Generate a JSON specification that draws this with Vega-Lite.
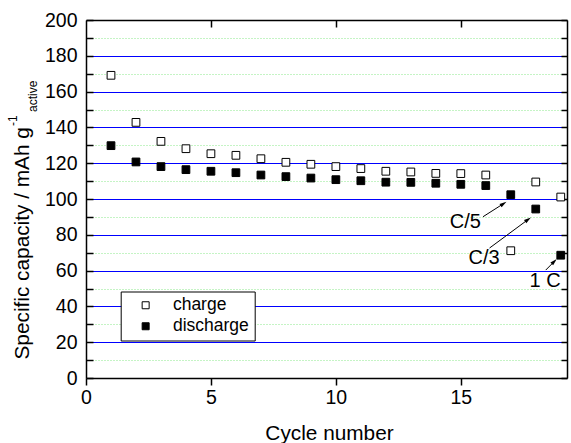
{
  "$schema": "https://vega.github.io/schema/vega-lite/v6.json",
  "width": 481,
  "height": 358,
  "autosize": {"type": "none"},
  "padding": {"left": 86, "top": 20, "right": 4, "bottom": 65},
  "config": {
    "font": "Liberation Sans",
    "view": {"stroke": null},
    "axis": {"labelColor": "black", "titleColor": "black", "labelFont": "Liberation Sans", "titleFont": "Liberation Sans", "titleFontWeight": "normal", "labelFlush": false}
  },
  "datasets": {
    "capacity": [
      {"cycle": 1, "series": "charge", "capacity": 169.1},
      {"cycle": 2, "series": "charge", "capacity": 142.8},
      {"cycle": 3, "series": "charge", "capacity": 132.2},
      {"cycle": 4, "series": "charge", "capacity": 128.1},
      {"cycle": 5, "series": "charge", "capacity": 125.3},
      {"cycle": 6, "series": "charge", "capacity": 124.4},
      {"cycle": 7, "series": "charge", "capacity": 122.5},
      {"cycle": 8, "series": "charge", "capacity": 120.5},
      {"cycle": 9, "series": "charge", "capacity": 119.4},
      {"cycle": 10, "series": "charge", "capacity": 118.1},
      {"cycle": 11, "series": "charge", "capacity": 117.0},
      {"cycle": 12, "series": "charge", "capacity": 115.5},
      {"cycle": 13, "series": "charge", "capacity": 115.1},
      {"cycle": 14, "series": "charge", "capacity": 114.3},
      {"cycle": 15, "series": "charge", "capacity": 114.2},
      {"cycle": 16, "series": "charge", "capacity": 113.4},
      {"cycle": 17, "series": "charge", "capacity": 71.1},
      {"cycle": 18, "series": "charge", "capacity": 109.5},
      {"cycle": 19, "series": "charge", "capacity": 101.1},
      {"cycle": 1, "series": "discharge", "capacity": 129.8},
      {"cycle": 2, "series": "discharge", "capacity": 120.7},
      {"cycle": 3, "series": "discharge", "capacity": 118.1},
      {"cycle": 4, "series": "discharge", "capacity": 116.4},
      {"cycle": 5, "series": "discharge", "capacity": 115.5},
      {"cycle": 6, "series": "discharge", "capacity": 114.7},
      {"cycle": 7, "series": "discharge", "capacity": 113.4},
      {"cycle": 8, "series": "discharge", "capacity": 112.5},
      {"cycle": 9, "series": "discharge", "capacity": 111.7},
      {"cycle": 10, "series": "discharge", "capacity": 110.8},
      {"cycle": 11, "series": "discharge", "capacity": 110.2},
      {"cycle": 12, "series": "discharge", "capacity": 109.4},
      {"cycle": 13, "series": "discharge", "capacity": 109.3},
      {"cycle": 14, "series": "discharge", "capacity": 108.8},
      {"cycle": 15, "series": "discharge", "capacity": 108.2},
      {"cycle": 16, "series": "discharge", "capacity": 107.5},
      {"cycle": 17, "series": "discharge", "capacity": 102.4},
      {"cycle": 18, "series": "discharge", "capacity": 94.4},
      {"cycle": 19, "series": "discharge", "capacity": 68.6}
    ],
    "rate_labels": [
      {"label": "C/5", "cycle": 15.18, "capacity": 87.2},
      {"label": "C/3", "cycle": 15.93, "capacity": 67.2},
      {"label": "1 C", "cycle": 18.37, "capacity": 54.4}
    ],
    "rate_arrows": [
      {"label": "C/5", "cycle": 15.89, "capacity": 90.1, "cycle_end": 16.71, "capacity_end": 97.4},
      {"label": "C/3", "cycle": 16.15, "capacity": 72.6, "cycle_end": 17.69, "capacity_end": 88.5},
      {"label": "1 C", "cycle": 18.4, "capacity": 60.3, "cycle_end": 18.74, "capacity_end": 65.1}
    ],
    "unit_parts": [
      {"part": "-1", "cycle": -2.76, "capacity": 140.8},
      {"part": "active", "cycle": -1.96, "capacity": 148.6}
    ]
  },
  "layer": [
    {
      "data": {"name": "capacity"},
      "mark": {"type": "point", "opacity": 0},
      "encoding": {
        "x": {
          "field": "cycle", "type": "quantitative",
          "scale": {"domain": [0, 19.25], "nice": false, "zero": false},
          "axis": {"orient": "top", "values": [5, 10, 15], "tickCount": 21, "labels": false, "title": null, "grid": false,
                   "tickSize": -7, "tickColor": "black", "tickWidth": 1.5, "domainColor": "black", "domainWidth": 1.5}
        },
        "y": {
          "field": "capacity", "type": "quantitative",
          "scale": {"domain": [0, 200], "nice": false, "zero": false},
          "axis": {"orient": "right", "values": [0, 10, 20, 30, 40, 50, 60, 70, 80, 90, 100, 110, 120, 130, 140, 150, 160, 170, 180, 190, 200],
                   "tickCount": 21, "labels": false, "title": null,
                   "grid": true, "gridColor": "#8be88b", "gridDash": [1, 2], "gridWidth": 1,
                   "gridOpacity": {"condition": {"test": "datum.value % 20 !== 0", "value": 1}, "value": 0},
                   "tickSize": -6, "tickColor": "black", "tickWidth": 1.5, "domainColor": "black", "domainWidth": 1.5}
        }
      }
    },
    {
      "layer": [
        {
          "data": {"name": "capacity"},
          "mark": {"type": "point", "shape": "square", "size": 60, "filled": true, "stroke": "black", "strokeWidth": 1, "opacity": 1},
          "encoding": {
            "x": {
              "field": "cycle", "type": "quantitative",
              "scale": {"domain": [0, 19.25], "nice": false, "zero": false},
              "axis": {"orient": "bottom", "values": [0, 5, 10, 15], "tickCount": 21, "title": "Cycle number", "grid": false,
                       "labelFontSize": 19.5, "labelPadding": 3, "tickSize": 7, "tickColor": "black", "tickWidth": 1.5,
                       "domainColor": "black", "domainWidth": 1.5,
                       "titleFontSize": 20.8, "titleX": 243, "titleY": 61, "titleBaseline": "alphabetic"}
            },
            "y": {
              "field": "capacity", "type": "quantitative",
              "scale": {"domain": [0, 200], "nice": false, "zero": false},
              "axis": {"orient": "left", "values": [0, 10, 20, 30, 40, 50, 60, 70, 80, 90, 100, 110, 120, 130, 140, 150, 160, 170, 180, 190, 200],
                       "tickCount": 21, "labelOverlap": false,
                       "labelExpr": "datum.value % 20 === 0 ? datum.label : ''",
                       "labelFontSize": 19.5, "labelPadding": 16,
                       "tickSize": -7, "tickColor": "black", "tickWidth": 1.5,
                       "domainColor": "black", "domainWidth": 1.5,
                       "grid": true, "gridColor": "#0000ff", "gridWidth": 1,
                       "gridOpacity": {"condition": {"test": "datum.value % 20 === 0 && datum.value > 0 && datum.value < 200", "value": 1}, "value": 0},
                       "title": "Specific capacity / mAh g",
                       "titleFontSize": 20.8, "titleX": -58, "titleY": 339, "titleAlign": "left", "titleAngle": 270, "titleBaseline": "alphabetic"}
            },
            "fill": {
              "field": "series", "type": "nominal",
              "scale": {"domain": ["charge", "discharge"], "range": ["white", "black"]},
              "legend": {
                "title": null, "orient": "none", "legendX": 34.7, "legendY": 271.5,
                "padding": 5, "strokeColor": "black", "fillColor": "white",
                "labelFont": "Liberation Sans", "labelFontSize": 17.5, "labelColor": "black",
                "symbolType": "square", "symbolSize": 49, "symbolStrokeColor": "black", "symbolStrokeWidth": 1,
                "symbolOffset": 11.2, "labelOffset": 18.5, "rowPadding": 2
              }
            }
          }
        },
        {
          "data": {"name": "rate_arrows"},
          "mark": {"type": "rule", "color": "black", "strokeWidth": 1},
          "encoding": {
            "x": {"field": "cycle", "type": "quantitative", "scale": {"domain": [0, 19.25], "nice": false, "zero": false}},
            "y": {"field": "capacity", "type": "quantitative", "scale": {"domain": [0, 200], "nice": false, "zero": false}},
            "x2": {"field": "cycle_end"},
            "y2": {"field": "capacity_end"}
          }
        },
        {
          "data": {"name": "rate_arrows"},
          "transform": [{"filter": "datum.label === 'C/5'"}],
          "mark": {"type": "point", "shape": "M0,-1L0.55,1L-0.55,1Z", "size": 50, "filled": true, "color": "black", "opacity": 1, "angle": 57},
          "encoding": {
            "x": {"field": "cycle_end", "type": "quantitative", "scale": {"domain": [0, 19.25], "nice": false, "zero": false}},
            "y": {"field": "capacity_end", "type": "quantitative", "scale": {"domain": [0, 200], "nice": false, "zero": false}}
          }
        },
        {
          "data": {"name": "rate_arrows"},
          "transform": [{"filter": "datum.label === 'C/3'"}],
          "mark": {"type": "point", "shape": "M0,-1L0.55,1L-0.55,1Z", "size": 50, "filled": true, "color": "black", "opacity": 1, "angle": 54},
          "encoding": {
            "x": {"field": "cycle_end", "type": "quantitative", "scale": {"domain": [0, 19.25], "nice": false, "zero": false}},
            "y": {"field": "capacity_end", "type": "quantitative", "scale": {"domain": [0, 200], "nice": false, "zero": false}}
          }
        },
        {
          "data": {"name": "rate_arrows"},
          "transform": [{"filter": "datum.label === '1 C'"}],
          "mark": {"type": "point", "shape": "M0,-1L0.55,1L-0.55,1Z", "size": 50, "filled": true, "color": "black", "opacity": 1, "angle": 45},
          "encoding": {
            "x": {"field": "cycle_end", "type": "quantitative", "scale": {"domain": [0, 19.25], "nice": false, "zero": false}},
            "y": {"field": "capacity_end", "type": "quantitative", "scale": {"domain": [0, 200], "nice": false, "zero": false}}
          }
        },
        {
          "data": {"name": "rate_labels"},
          "mark": {"type": "text", "font": "Liberation Sans", "fontSize": 20, "color": "black", "align": "center", "baseline": "middle"},
          "encoding": {
            "x": {"field": "cycle", "type": "quantitative", "scale": {"domain": [0, 19.25], "nice": false, "zero": false}},
            "y": {"field": "capacity", "type": "quantitative", "scale": {"domain": [0, 200], "nice": false, "zero": false}},
            "text": {"field": "label"}
          }
        },
        {
          "data": {"name": "unit_parts"},
          "mark": {"type": "text", "font": "Liberation Sans", "fontSize": 12, "color": "black", "align": "left", "baseline": "alphabetic", "angle": 270},
          "encoding": {
            "x": {"field": "cycle", "type": "quantitative", "scale": {"domain": [0, 19.25], "nice": false, "zero": false}},
            "y": {"field": "capacity", "type": "quantitative", "scale": {"domain": [0, 200], "nice": false, "zero": false}},
            "text": {"field": "part"}
          }
        }
      ]
    }
  ],
  "resolve": {"scale": {"x": "independent", "y": "independent"}}
}
